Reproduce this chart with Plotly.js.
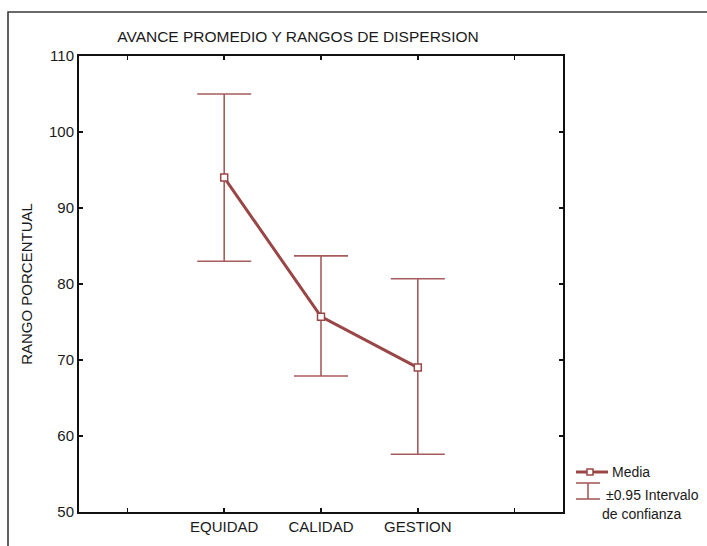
<!DOCTYPE html>
<html>
<head>
<meta charset="utf-8">
<script src="https://cdn.plot.ly/plotly-3.0.1.min.js"></script>
<style>
html, body { margin: 0; padding: 0; background: #fff; }
#chart { width: 707px; height: 546px; }
</style>
</head>
<body>
<div id="chart"></div>
<script>
// ---- data ----
var categories = ['EQUIDAD', 'CALIDAD', 'GESTION'];
var axisCategories = [' ', 'EQUIDAD', 'CALIDAD', 'GESTION', '  '];
var meanValues = [94.0, 75.7, 69.0];
var upperValues = [105.0, 83.7, 80.7];
var lowerValues = [83.0, 67.9, 57.6];
var yTicks = [50, 60, 70, 80, 90, 100, 110];

var titleText = 'AVANCE PROMEDIO Y RANGOS DE DISPERSION';
var yTitleText = 'RANGO PORCENTUAL';
var legendMean = 'Media';
var legendCI1 = '\u00B10.95 Intervalo';
var legendCI2 = 'de confianza';

var lineColor = '#9a4646';
var errColor = '#a65c5c';
var fontFamily = 'Liberation Sans, Arial, sans-serif';

var errPlus = upperValues.map(function (u, i) { return u - meanValues[i]; });
var errMinus = lowerValues.map(function (l, i) { return meanValues[i] - l; });

var trace = {
  type: 'scatter',
  mode: 'lines+markers',
  x: categories,
  y: meanValues,
  name: legendMean,
  showlegend: false,
  line: { color: lineColor, width: 3 },
  marker: { symbol: 'square', size: 7, color: '#ffffff', line: { color: lineColor, width: 1.5 } },
  error_y: {
    type: 'data',
    symmetric: false,
    array: errPlus,
    arrayminus: errMinus,
    color: errColor,
    thickness: 1.6,
    width: 27
  },
  hoverinfo: 'x+y'
};

// plot area in pixels: left 79, right 563, top 56, bottom 512
var L = 79, R = 563, T = 56, B = 512, W = 707, H = 546;
function px(xp) { return (xp - L) / (R - L); }
function py(yp) { return (B - yp) / (B - T); }

var shapes = [
  // outer frame
  { type: 'rect', xref: 'paper', yref: 'paper', x0: px(8), x1: px(760), y0: py(600), y1: py(12),
    line: { color: '#3a3a3a', width: 1.6 }, fillcolor: 'rgba(0,0,0,0)', layer: 'below' },
  // legend: mean line
  { type: 'line', xref: 'paper', yref: 'paper', x0: px(576), x1: px(608), y0: py(472), y1: py(472),
    line: { color: lineColor, width: 3 } },
  { type: 'rect', xref: 'paper', yref: 'paper', x0: px(587), x1: px(593), y0: py(475), y1: py(469),
    line: { color: lineColor, width: 1.5 }, fillcolor: '#ffffff' },
  // legend: error bar glyph
  { type: 'line', xref: 'paper', yref: 'paper', x0: px(576), x1: px(600), y0: py(483), y1: py(483),
    line: { color: errColor, width: 1.6 } },
  { type: 'line', xref: 'paper', yref: 'paper', x0: px(576), x1: px(600), y0: py(499), y1: py(499),
    line: { color: errColor, width: 1.6 } },
  { type: 'line', xref: 'paper', yref: 'paper', x0: px(588), x1: px(588), y0: py(483), y1: py(499),
    line: { color: errColor, width: 1.6 } }
];

var annotations = [
  { xref: 'paper', yref: 'paper', x: px(610), y: py(472), xanchor: 'left', yanchor: 'middle',
    text: legendMean, showarrow: false, font: { family: fontFamily, size: 14, color: '#1a1a1a' } },
  { xref: 'paper', yref: 'paper', x: px(604), y: py(495), xanchor: 'left', yanchor: 'middle',
    text: legendCI1, showarrow: false, font: { family: fontFamily, size: 14, color: '#1a1a1a' } },
  { xref: 'paper', yref: 'paper', x: px(600), y: py(514), xanchor: 'left', yanchor: 'middle',
    text: legendCI2, showarrow: false, font: { family: fontFamily, size: 14, color: '#1a1a1a' } }
];

var layout = {
  width: W, height: H,
  margin: { l: L, r: W - R, t: T, b: H - B, pad: 0 },
  paper_bgcolor: '#ffffff',
  plot_bgcolor: '#ffffff',
  font: { family: fontFamily, size: 15, color: '#1a1a1a' },
  showlegend: false,
  title: {
    text: titleText,
    font: { family: fontFamily, size: 15.5, color: '#1a1a1a' },
    xref: 'paper', x: px(298), xanchor: 'center',
    yref: 'container', y: 1 - 37 / H, yanchor: 'middle'
  },
  xaxis: {
    type: 'category',
    categoryorder: 'array',
    categoryarray: axisCategories,
    range: [-0.5, 4.5],
    showgrid: false, zeroline: false,
    showline: true, linecolor: '#111', linewidth: 2, mirror: 'ticks',
    ticks: 'inside', ticklen: 4, tickwidth: 1.5, tickcolor: '#111',
    tickfont: { family: fontFamily, size: 15, color: '#1a1a1a' },
    automargin: false
  },
  yaxis: {
    range: [50, 110],
    tickvals: yTicks,
    showgrid: false, zeroline: false,
    showline: true, linecolor: '#111', linewidth: 2, mirror: 'ticks',
    ticks: 'inside', ticklen: 4, tickwidth: 1.5, tickcolor: '#111',
    tickfont: { family: fontFamily, size: 15, color: '#1a1a1a' },
    title: { text: yTitleText, font: { family: fontFamily, size: 15, color: '#1a1a1a' }, standoff: 13 },
    automargin: false
  },
  shapes: shapes,
  annotations: annotations
};

Plotly.newPlot('chart', [trace], layout, { displayModeBar: false, staticPlot: true });
</script>
</body>
</html>
